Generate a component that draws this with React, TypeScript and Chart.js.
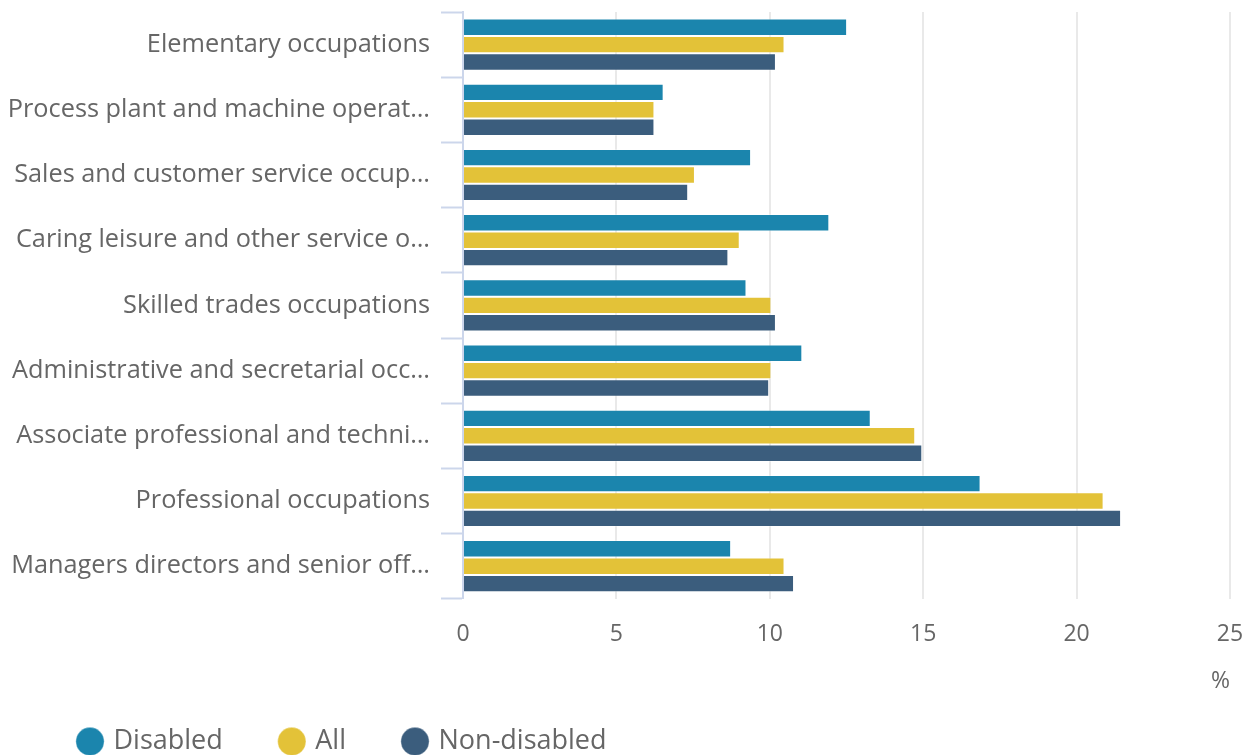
import React, { useEffect, useRef } from "react";
import { Chart, registerables } from "chart.js";

Chart.register(...registerables);

const categories = [
  "Elementary occupations",
  "Process plant and machine operat…",
  "Sales and customer service occup…",
  "Caring leisure and other service o…",
  "Skilled trades occupations",
  "Administrative and secretarial occ…",
  "Associate professional and techni…",
  "Professional occupations",
  "Managers directors and senior off…",
];
const disabled = [12.52, 6.54, 9.39, 11.94, 9.24, 11.06, 13.29, 16.87, 8.74];
const all = [10.48, 6.24, 7.56, 9.02, 10.05, 10.05, 14.74, 20.88, 10.48];
const nonDisabled = [10.2, 6.24, 7.34, 8.65, 10.2, 9.98, 14.97, 21.45, 10.79];
const seriesNames = ["Disabled", "All", "Non-disabled"];
const seriesColors = ["#1b85ad", "#e3c238", "#3b5d7d"];
const xTickStep = 5;

const FONT = "'Open Sans', sans-serif";
const GREY = "#666666";

const legendShift = {
  id: "legendShift",
  afterLayout(chart: any) {
    const lg = chart.legend;
    if (!lg) return;
    const dx = 13;
    const dy = -26;
    lg.left += dx;
    lg.right += dx;
    lg.top += dy;
    lg.bottom += dy;
  },
};

export default function App() {
  const ref = useRef<HTMLCanvasElement>(null);
  useEffect(() => {
    if (!ref.current) return;
    const values = [disabled, all, nonDisabled];
    const chart = new Chart(ref.current, {
      type: "bar",
      data: {
        labels: categories,
        datasets: seriesNames.map((name, i) => ({
          label: name,
          data: values[i],
          backgroundColor: seriesColors[i],
          borderColor: "rgba(255,255,255,0.35)",
          borderWidth: 1,
          categoryPercentage: 0.8,
          barPercentage: 1.0,
        })),
      },
      plugins: [legendShift],
      options: {
        indexAxis: "y",
        animation: false,
        responsive: true,
        maintainAspectRatio: false,
        layout: { padding: { top: 4, right: 0, left: 0, bottom: 0 } },
        plugins: {
          tooltip: { enabled: false },
          legend: {
            position: "bottom",
            align: "start",
            labels: {
              usePointStyle: true,
              pointStyle: "circle",
              boxWidth: 20,
              boxHeight: 20,
              padding: 59,
              color: GREY,
              font: { family: FONT, size: 27 },
            },
          },
        },
        scales: {
          x: {
            min: 0,
            max: 25,
            border: { display: false },
            grid: { color: "#e9e9e9", lineWidth: 2, drawTicks: false },
            ticks: {
              stepSize: xTickStep,
              padding: 22,
              color: GREY,
              font: { family: FONT, size: 23 },
            },
            title: {
              display: true,
              text: "%",
              align: "end",
              color: GREY,
              font: { family: FONT, size: 23 },
              padding: { top: -3, bottom: 0 },
            },
            afterFit(scale: any) {
              scale.paddingLeft = 0;
              scale.paddingRight = 14;
            },
          },
          y: {
            border: { display: true, color: "#ccd6eb", width: 2 },
            grid: {
              drawOnChartArea: false,
              drawTicks: true,
              tickLength: 22,
              tickColor: "#ccd6eb",
              tickWidth: 2,
              offset: true,
            },
            ticks: {
              padding: 11,
              color: GREY,
              font: { family: FONT, size: 25.3 },
            },
            afterFit(scale: any) {
              scale.width = 455;
              scale.paddingTop = 0;
              scale.paddingBottom = 0;
            },
          },
        },
      },
    });
    return () => chart.destroy();
  }, []);
  return (
    <>
      <style>{"html,body{overflow:hidden;}"}</style>
      <div style={{ width: 1236, height: 783, position: "relative" }}>
        <canvas ref={ref} />
      </div>
    </>
  );
}
